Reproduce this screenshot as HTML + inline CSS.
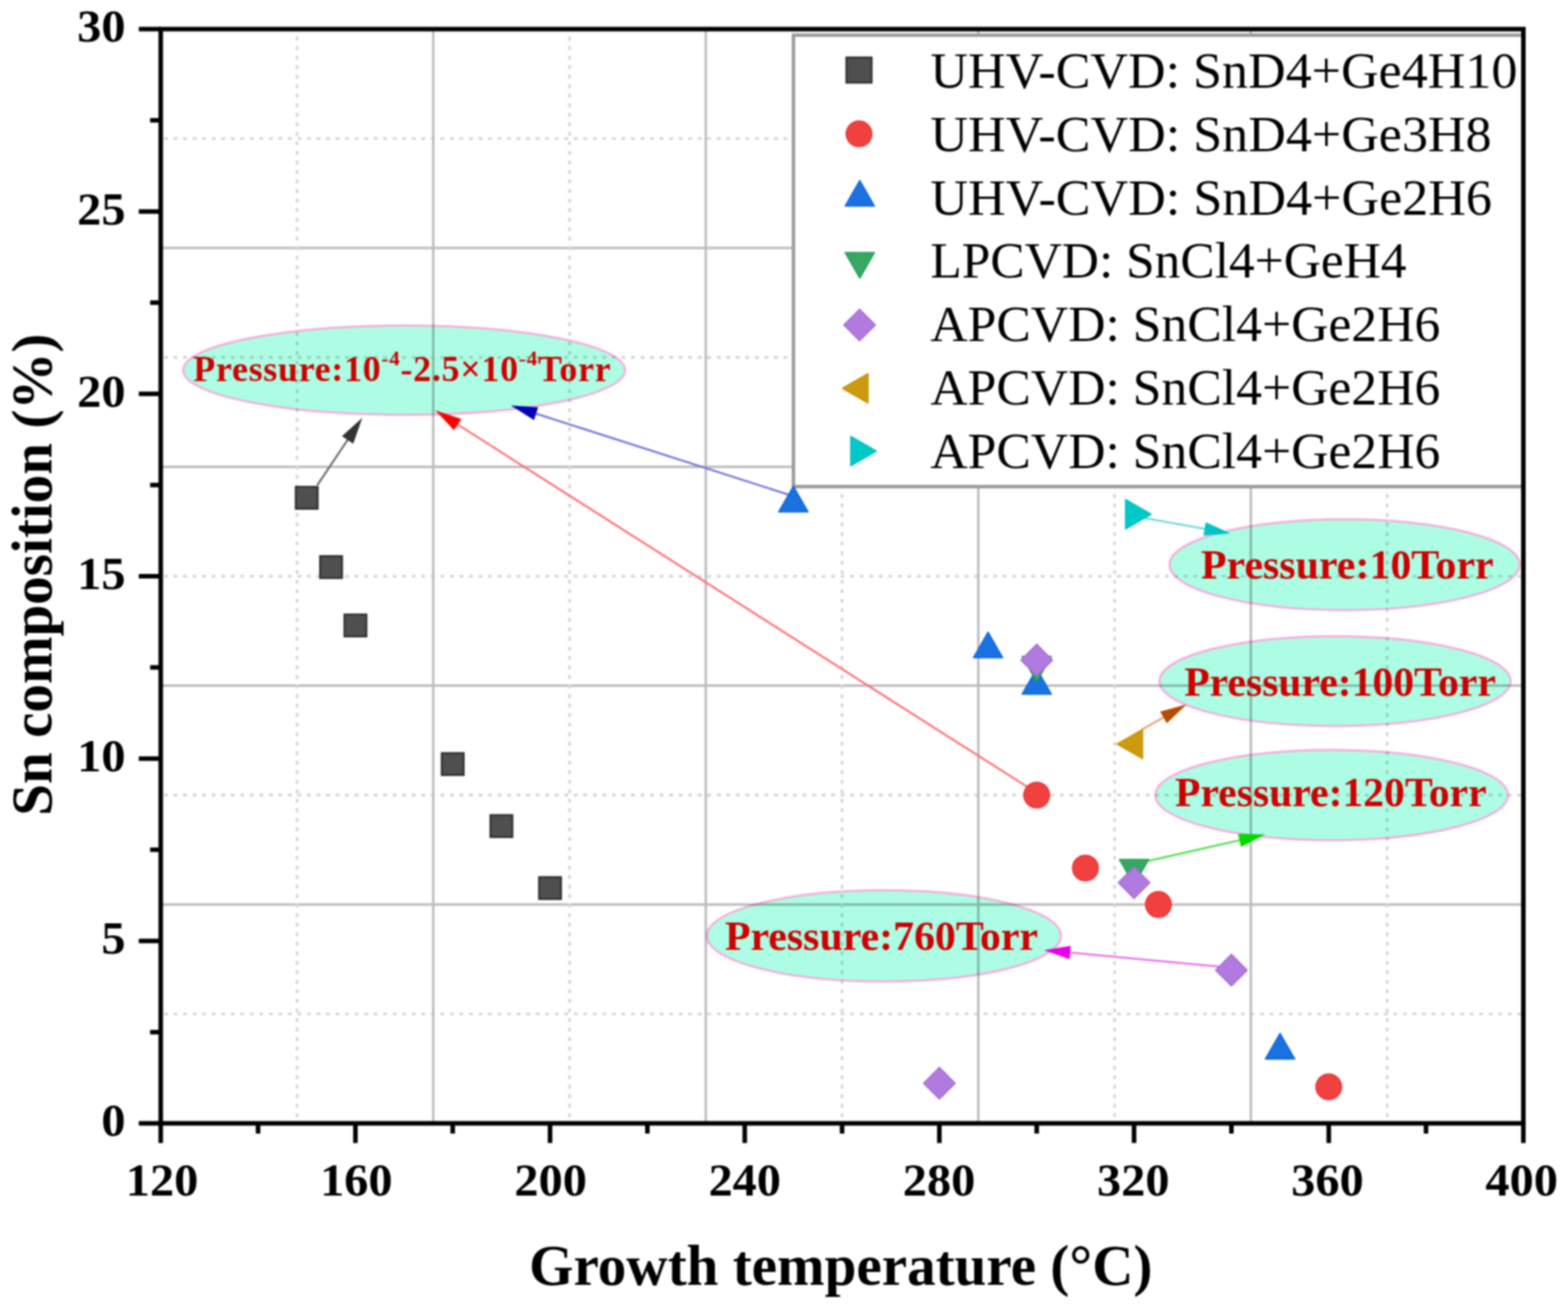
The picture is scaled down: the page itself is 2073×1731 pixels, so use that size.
<!DOCTYPE html>
<html><head><meta charset="utf-8"><title>Sn composition vs growth temperature</title>
<style>
html,body{margin:0;padding:0;background:#fff;}
body{width:2073px;height:1731px;overflow:hidden;}
svg{display:block;filter:blur(1px);}
.tick{font-family:"Liberation Serif","Times New Roman",serif;font-weight:bold;font-size:61.5px;fill:#000;}
.ttl{font-family:"Liberation Serif","Times New Roman",serif;font-weight:bold;font-size:75.5px;fill:#000;}
.leg{font-family:"Liberation Serif","Times New Roman",serif;font-size:68.3px;fill:#000;}
.ann{font-family:"Liberation Serif","Times New Roman",serif;font-weight:bold;font-size:55px;fill:#cc0000;}
</style></head><body>
<svg width="2073" height="1731" viewBox="0 0 2073 1731">
<rect width="2073" height="1731" fill="#fff"/>

<ellipse cx="534.3" cy="489.5" rx="292" ry="59" fill="#adfde4" stroke="#f4b0de" stroke-width="3"/>
<ellipse cx="1777.6" cy="746.7" rx="231.4" ry="60" fill="#adfde4" stroke="#f4b0de" stroke-width="3"/>
<ellipse cx="1765" cy="900.7" rx="232" ry="59.3" fill="#adfde4" stroke="#f4b0de" stroke-width="3"/>
<ellipse cx="1760.5" cy="1051.4" rx="233" ry="59.6" fill="#adfde4" stroke="#f4b0de" stroke-width="3"/>
<ellipse cx="1168.6" cy="1237.6" rx="234" ry="60.4" fill="#adfde4" stroke="#f4b0de" stroke-width="3"/>
<g style="mix-blend-mode:multiply"><line x1="216.5" y1="183.2" x2="2014.02" y2="183.2" stroke="#d6d6d6" stroke-width="3.6" stroke-dasharray="5 7.6" stroke-dashoffset="-0.4"/>
<line x1="212.5" y1="327.9" x2="2014.02" y2="327.9" stroke="#bcbcbc" stroke-width="3.2"/>
<line x1="216.5" y1="472.6" x2="2014.02" y2="472.6" stroke="#d6d6d6" stroke-width="3.6" stroke-dasharray="5 7.6" stroke-dashoffset="-0.4"/>
<line x1="212.5" y1="617.3" x2="2014.02" y2="617.3" stroke="#bcbcbc" stroke-width="3.2"/>
<line x1="216.5" y1="762.0" x2="2014.02" y2="762.0" stroke="#d6d6d6" stroke-width="3.6" stroke-dasharray="5 7.6" stroke-dashoffset="-0.4"/>
<line x1="212.5" y1="906.7" x2="2014.02" y2="906.7" stroke="#bcbcbc" stroke-width="3.2"/>
<line x1="216.5" y1="1051.4" x2="2014.02" y2="1051.4" stroke="#d6d6d6" stroke-width="3.6" stroke-dasharray="5 7.6" stroke-dashoffset="-0.4"/>
<line x1="212.5" y1="1196.1" x2="2014.02" y2="1196.1" stroke="#bcbcbc" stroke-width="3.2"/>
<line x1="216.5" y1="1340.8" x2="2014.02" y2="1340.8" stroke="#d6d6d6" stroke-width="3.6" stroke-dasharray="5 7.6" stroke-dashoffset="-0.4"/>
<line x1="392.7" y1="48.5" x2="392.7" y2="1485.49" stroke="#d6d6d6" stroke-width="3.6" stroke-dasharray="5 7.6"/>
<line x1="572.8" y1="38.5" x2="572.8" y2="1485.49" stroke="#bcbcbc" stroke-width="3.2"/>
<line x1="753.0" y1="48.5" x2="753.0" y2="1485.49" stroke="#d6d6d6" stroke-width="3.6" stroke-dasharray="5 7.6"/>
<line x1="933.1" y1="38.5" x2="933.1" y2="1485.49" stroke="#bcbcbc" stroke-width="3.2"/>
<line x1="1113.3" y1="48.5" x2="1113.3" y2="1485.49" stroke="#d6d6d6" stroke-width="3.6" stroke-dasharray="5 7.6"/>
<line x1="1293.4" y1="38.5" x2="1293.4" y2="1485.49" stroke="#bcbcbc" stroke-width="3.2"/>
<line x1="1473.6" y1="48.5" x2="1473.6" y2="1485.49" stroke="#d6d6d6" stroke-width="3.6" stroke-dasharray="5 7.6"/>
<line x1="1653.7" y1="38.5" x2="1653.7" y2="1485.49" stroke="#bcbcbc" stroke-width="3.2"/>
<line x1="1833.9" y1="48.5" x2="1833.9" y2="1485.49" stroke="#d6d6d6" stroke-width="3.6" stroke-dasharray="5 7.6"/></g>
<rect x="1049" y="46.5" width="965.5" height="597.0" fill="#fff" stroke="#999" stroke-width="4.5"/>
<text class="leg" x="1230" y="116.0" textLength="776.1" lengthAdjust="spacingAndGlyphs">UHV-CVD: SnD4+Ge4H10</text>
<text class="leg" x="1230" y="199.8" textLength="742.0" lengthAdjust="spacingAndGlyphs">UHV-CVD: SnD4+Ge3H8</text>
<text class="leg" x="1230" y="283.6" textLength="742.4" lengthAdjust="spacingAndGlyphs">UHV-CVD: SnD4+Ge2H6</text>
<text class="leg" x="1230" y="367.4" textLength="629.6" lengthAdjust="spacingAndGlyphs">LPCVD: SnCl4+GeH4</text>
<text class="leg" x="1230" y="451.2" textLength="674.2" lengthAdjust="spacingAndGlyphs">APCVD: SnCl4+Ge2H6</text>
<text class="leg" x="1230" y="535.0" textLength="674.2" lengthAdjust="spacingAndGlyphs">APCVD: SnCl4+Ge2H6</text>
<text class="leg" x="1230" y="618.8" textLength="674.2" lengthAdjust="spacingAndGlyphs">APCVD: SnCl4+Ge2H6</text>
<rect x="1119.0" y="76.0" width="33.3" height="33.3" fill="#4f4f4f" stroke="#2e2e2e" stroke-width="2.5"/>
<circle cx="1135.7" cy="177.0" r="17.0" fill="#f04040" stroke="#e83030" stroke-width="1.5"/>
<polygon points="1136.7,238.5 1156.2,272.5 1117.2,272.5" fill="#1a71e0" stroke="#0a62dc" stroke-width="1.5" stroke-linejoin="round"/>
<polygon points="1136.7,367.9 1156.2,333.9 1117.2,333.9" fill="#36a862" stroke="#1e9a50" stroke-width="1.5" stroke-linejoin="round"/>
<polygon points="1136.4,408.7 1157.4,429.7 1136.4,450.7 1115.4,429.7" fill="#b07adf" stroke="#a86ad8" stroke-width="1.5"/>
<polygon points="1113.7,513.5 1147.7,494.0 1147.7,533.0" fill="#cc9a0c" stroke="#c89000" stroke-width="1.5" stroke-linejoin="round"/>
<polygon points="1158.7,596.5 1124.7,577.0 1124.7,616.0" fill="#00c9c9" stroke="#00bebe" stroke-width="1.5" stroke-linejoin="round"/>
<g stroke="#000" stroke-width="6" fill="none" stroke-linecap="butt">
<rect x="212.5" y="38.5" width="1801.52" height="1446.99" stroke-linejoin="miter"/>
<line x1="183.5" y1="1485.5" x2="212.5" y2="1485.5"/>
<line x1="183.5" y1="1244.3" x2="212.5" y2="1244.3"/>
<line x1="183.5" y1="1003.2" x2="212.5" y2="1003.2"/>
<line x1="183.5" y1="762.0" x2="212.5" y2="762.0"/>
<line x1="183.5" y1="520.8" x2="212.5" y2="520.8"/>
<line x1="183.5" y1="279.7" x2="212.5" y2="279.7"/>
<line x1="183.5" y1="38.5" x2="212.5" y2="38.5"/>
<line x1="198.5" y1="1364.9" x2="212.5" y2="1364.9"/>
<line x1="198.5" y1="1123.7" x2="212.5" y2="1123.7"/>
<line x1="198.5" y1="882.6" x2="212.5" y2="882.6"/>
<line x1="198.5" y1="641.4" x2="212.5" y2="641.4"/>
<line x1="198.5" y1="400.2" x2="212.5" y2="400.2"/>
<line x1="198.5" y1="159.1" x2="212.5" y2="159.1"/>
<line x1="212.5" y1="1485.49" x2="212.5" y2="1511.49"/>
<line x1="469.9" y1="1485.49" x2="469.9" y2="1511.49"/>
<line x1="727.2" y1="1485.49" x2="727.2" y2="1511.49"/>
<line x1="984.6" y1="1485.49" x2="984.6" y2="1511.49"/>
<line x1="1241.9" y1="1485.49" x2="1241.9" y2="1511.49"/>
<line x1="1499.3" y1="1485.49" x2="1499.3" y2="1511.49"/>
<line x1="1756.7" y1="1485.49" x2="1756.7" y2="1511.49"/>
<line x1="2014.0" y1="1485.49" x2="2014.0" y2="1511.49"/>
<line x1="341.2" y1="1485.49" x2="341.2" y2="1498.99"/>
<line x1="598.5" y1="1485.49" x2="598.5" y2="1498.99"/>
<line x1="855.9" y1="1485.49" x2="855.9" y2="1498.99"/>
<line x1="1113.3" y1="1485.49" x2="1113.3" y2="1498.99"/>
<line x1="1370.6" y1="1485.49" x2="1370.6" y2="1498.99"/>
<line x1="1628.0" y1="1485.49" x2="1628.0" y2="1498.99"/>
<line x1="1885.3" y1="1485.49" x2="1885.3" y2="1498.99"/>
</g>
<text class="tick" transform="translate(166,1502.3) scale(1.04,1)" text-anchor="end">0</text>
<text class="tick" transform="translate(166,1261.1) scale(1.04,1)" text-anchor="end">5</text>
<text class="tick" transform="translate(166,1020.0) scale(1.04,1)" text-anchor="end">10</text>
<text class="tick" transform="translate(166,778.8) scale(1.04,1)" text-anchor="end">15</text>
<text class="tick" transform="translate(166,537.6) scale(1.04,1)" text-anchor="end">20</text>
<text class="tick" transform="translate(166,296.5) scale(1.04,1)" text-anchor="end">25</text>
<text class="tick" transform="translate(166,55.3) scale(1.04,1)" text-anchor="end">30</text>
<text class="tick" transform="translate(214.3,1580.8) scale(1.04,1)" text-anchor="middle">120</text>
<text class="tick" transform="translate(471.1,1580.8) scale(1.04,1)" text-anchor="middle">160</text>
<text class="tick" transform="translate(727.9,1580.8) scale(1.04,1)" text-anchor="middle">200</text>
<text class="tick" transform="translate(984.6,1580.8) scale(1.04,1)" text-anchor="middle">240</text>
<text class="tick" transform="translate(1241.4,1580.8) scale(1.04,1)" text-anchor="middle">280</text>
<text class="tick" transform="translate(1498.2,1580.8) scale(1.04,1)" text-anchor="middle">320</text>
<text class="tick" transform="translate(1755.0,1580.8) scale(1.04,1)" text-anchor="middle">360</text>
<text class="tick" transform="translate(2011.8,1580.8) scale(1.04,1)" text-anchor="middle">400</text>
<text class="ttl" x="699.5" y="1699">Growth temperature (°C)</text>
<text class="ttl" transform="translate(68,1078.7) rotate(-90)">Sn composition (%)</text>
<line x1="419.4" y1="641.7" x2="461.8" y2="578.4" stroke="#666666" stroke-width="2.5"/><polygon points="479.0,552.6 467.0,586.7 452.1,576.7" fill="#333333"/>
<line x1="1362.0" y1="1043.0" x2="601.8" y2="559.3" stroke="#ff6c6c" stroke-width="2.5"/><polygon points="575.6,542.7 610.0,553.9 600.3,569.1" fill="#ff0000"/>
<line x1="1042.8" y1="654.2" x2="704.9" y2="545.8" stroke="#7070e0" stroke-width="2.5"/><polygon points="675.4,536.3 711.5,538.4 706.0,555.6" fill="#0000bb"/>
<line x1="1513.0" y1="685.0" x2="1596.5" y2="700.0" stroke="#6cd8dc" stroke-width="2.5"/><polygon points="1627.0,705.5 1591.0,708.2 1594.1,690.4" fill="#00c4c8"/>
<line x1="1510.0" y1="964.6" x2="1541.7" y2="946.8" stroke="#e6a070" stroke-width="2.5"/><polygon points="1568.7,931.6 1542.6,956.6 1533.8,940.9" fill="#b44c00"/>
<line x1="1516.0" y1="1139.0" x2="1642.7" y2="1110.3" stroke="#55dd55" stroke-width="2.5"/><polygon points="1672.9,1103.5 1640.7,1120.0 1636.8,1102.4" fill="#00d800"/>
<line x1="1620.0" y1="1279.0" x2="1410.9" y2="1259.3" stroke="#ec6cec" stroke-width="2.5"/><polygon points="1380.0,1256.4 1415.7,1250.7 1414.0,1268.6" fill="#e600e6"/>
<rect x="391.0" y="643.8" width="29.0" height="29.0" fill="#4f4f4f" stroke="#2e2e2e" stroke-width="2.5"/>
<rect x="423.2" y="735.4" width="29.0" height="29.0" fill="#4f4f4f" stroke="#2e2e2e" stroke-width="2.5"/>
<rect x="455.4" y="812.6" width="29.0" height="29.0" fill="#4f4f4f" stroke="#2e2e2e" stroke-width="2.5"/>
<rect x="584.0" y="995.9" width="29.0" height="29.0" fill="#4f4f4f" stroke="#2e2e2e" stroke-width="2.5"/>
<rect x="648.4" y="1077.9" width="29.0" height="29.0" fill="#4f4f4f" stroke="#2e2e2e" stroke-width="2.5"/>
<rect x="712.7" y="1159.9" width="29.0" height="29.0" fill="#4f4f4f" stroke="#2e2e2e" stroke-width="2.5"/>
<circle cx="1370.6" cy="1051.4" r="17.0" fill="#f04040" stroke="#e83030" stroke-width="1.5"/>
<circle cx="1435.0" cy="1147.9" r="17.0" fill="#f04040" stroke="#e83030" stroke-width="1.5"/>
<circle cx="1531.5" cy="1196.1" r="17.0" fill="#f04040" stroke="#e83030" stroke-width="1.5"/>
<circle cx="1756.7" cy="1437.3" r="17.0" fill="#f04040" stroke="#e83030" stroke-width="1.5"/>
<polygon points="1048.9,642.9 1068.4,676.9 1029.4,676.9" fill="#1a71e0" stroke="#0a62dc" stroke-width="1.5" stroke-linejoin="round"/>
<polygon points="1306.3,835.8 1325.8,869.8 1286.8,869.8" fill="#1a71e0" stroke="#0a62dc" stroke-width="1.5" stroke-linejoin="round"/>
<polygon points="1370.6,884.0 1390.1,918.0 1351.1,918.0" fill="#1a71e0" stroke="#0a62dc" stroke-width="1.5" stroke-linejoin="round"/>
<polygon points="1692.3,1366.4 1711.8,1400.4 1672.8,1400.4" fill="#1a71e0" stroke="#0a62dc" stroke-width="1.5" stroke-linejoin="round"/>
<polygon points="1370.6,901.9 1390.1,867.9 1351.1,867.9" fill="#36a862" stroke="#1e9a50" stroke-width="1.5" stroke-linejoin="round"/>
<polygon points="1499.3,1170.5 1518.8,1136.5 1479.8,1136.5" fill="#36a862" stroke="#1e9a50" stroke-width="1.5" stroke-linejoin="round"/>
<polygon points="1370.6,851.9 1391.6,872.9 1370.6,893.9 1349.6,872.9" fill="#b07adf" stroke="#a86ad8" stroke-width="1.5"/>
<polygon points="1499.3,1146.2 1520.3,1167.2 1499.3,1188.2 1478.3,1167.2" fill="#b07adf" stroke="#a86ad8" stroke-width="1.5"/>
<polygon points="1628.0,1261.9 1649.0,1282.9 1628.0,1303.9 1607.0,1282.9" fill="#b07adf" stroke="#a86ad8" stroke-width="1.5"/>
<polygon points="1241.9,1411.4 1262.9,1432.4 1241.9,1453.4 1220.9,1432.4" fill="#b07adf" stroke="#a86ad8" stroke-width="1.5"/>
<polygon points="1476.6,983.9 1510.6,964.4 1510.6,1003.4" fill="#cc9a0c" stroke="#c89000" stroke-width="1.5" stroke-linejoin="round"/>
<polygon points="1522.0,680.0 1488.0,660.5 1488.0,699.5" fill="#00c9c9" stroke="#00bebe" stroke-width="1.5" stroke-linejoin="round"/>
<text class="ann" x="1587.7" y="764.7" textLength="387" lengthAdjust="spacingAndGlyphs">Pressure:10Torr</text>
<text class="ann" x="1565.7" y="919.5" textLength="412" lengthAdjust="spacingAndGlyphs">Pressure:100Torr</text>
<text class="ann" x="1553.5" y="1066.3" textLength="412" lengthAdjust="spacingAndGlyphs">Pressure:120Torr</text>
<text class="ann" x="958.4" y="1255.5" textLength="414" lengthAdjust="spacingAndGlyphs">Pressure:760Torr</text>
<text class="ann" x="255.5" y="503.5" style="font-size:47.5px;letter-spacing:0.95px">Pressure:10<tspan dy="-21" style="font-size:28px">-4</tspan><tspan dy="21">-2.5×10</tspan><tspan dy="-21" style="font-size:28px">-4</tspan><tspan dy="21">Torr</tspan></text>
</svg>
</body></html>
